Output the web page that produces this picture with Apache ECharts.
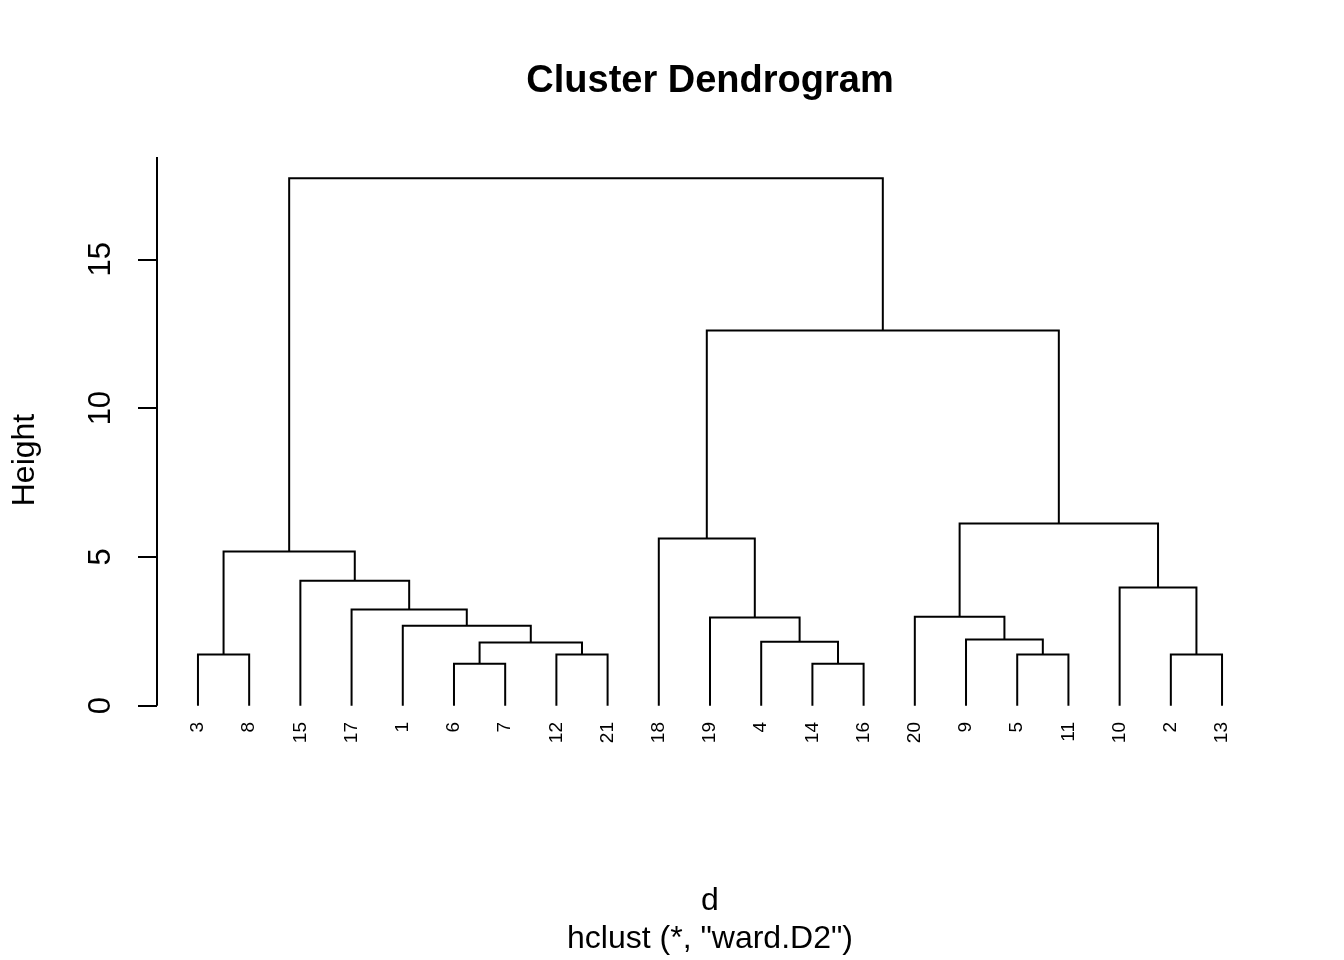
<!DOCTYPE html>
<html><head><meta charset="utf-8">
<script src="https://cdn.jsdelivr.net/npm/echarts@6/dist/echarts.min.js"></script>
<style>html,body{margin:0;padding:0;background:#fff}#c{width:1344px;height:960px}</style>
</head><body><div id="c"></div>
<script>
// Leaf labels in dendrogram display order
const leafOrder = ['3','8','15','17','1','6','7','12','21','18','19','4','14','16','20','9','5','11','10','2','13'];
// Merge steps: a string child is a leaf label, a number child is an earlier merge step (1-based)
const mergeLeft  = ['6','14','3','12','5','2', 1,'4','9','1','19','20','17','10','15', 3,'18', 12, 17, 16];
const mergeRight = ['7','16','8','21','11','13', 4, 2, 5, 7, 8, 9, 10, 6, 13, 15, 11, 14, 18, 19];
const mergeHeight = [1.41,1.41,1.72,1.72,1.72,1.72,2.12,2.15,2.22,2.69,2.96,2.99,3.23,3.97,4.20,5.18,5.62,6.12,12.61,17.73];
const yTicks = [0,5,10,15];
const leafTicks = leafOrder.map((_, i) => i + 1);

const FONT = 'Liberation Sans, Arial, Helvetica, sans-serif';

// Build the segment table from the merge structure
const nodeX = [], nodeH = [];
function childPos(c) {
  if (typeof c === 'string') return [leafOrder.indexOf(c) + 1, 0];
  return [nodeX[c - 1], nodeH[c - 1]];
}
const segs = [];
for (let i = 0; i < mergeHeight.length; i++) {
  const l = childPos(mergeLeft[i]), r = childPos(mergeRight[i]);
  nodeX.push((l[0] + r[0]) / 2);
  nodeH.push(mergeHeight[i]);
  segs.push([l[0], l[1], r[0], r[1], mergeHeight[i]]);
}

const yMin = -1.96, yMax = 18.44;
const chart = echarts.init(document.getElementById('c'), null, {renderer: 'canvas'});
chart.setOption({
  animation: false,
  backgroundColor: '#ffffff',
  grid: {left: 157, right: 81, top: 157, bottom: 196, containLabel: false},
  xAxis: {
    type: 'value', min: 0.2, max: 21.8,
    axisLine: {show: false},
    axisTick: {show: false},
    splitLine: {show: false},
    axisLabel: {
      customValues: leafTicks,
      formatter: v => leafOrder[Math.round(v) - 1] || '',
      rotate: 90, fontSize: 19, margin: -42, color: '#000', fontFamily: FONT
    }
  },
  yAxis: {
    type: 'value', min: yMin, max: yMax,
    axisLine: {show: false},
    splitLine: {show: false},
    axisTick: {show: true, customValues: yTicks, length: 19, lineStyle: {color: '#000', width: 2}},
    axisLabel: {customValues: yTicks, rotate: 90, fontSize: 31, margin: 40, color: '#000', fontFamily: FONT}
  },
  series: [
    {
      type: 'custom',
      data: segs,
      encode: {x: [0, 2], y: [1, 3, 4]},
      clip: false,
      renderItem: function (params, api) {
        const p0 = api.coord([api.value(0), api.value(1)]);
        const p1 = api.coord([api.value(0), api.value(4)]);
        const p2 = api.coord([api.value(2), api.value(4)]);
        const p3 = api.coord([api.value(2), api.value(3)]);
        return {type: 'polyline', shape: {points: [p0, p1, p2, p3]},
          style: {stroke: '#000', lineWidth: 2, fill: null, lineJoin: 'miter', lineCap: 'butt'}};
      }
    },
    {
      type: 'line',
      data: [[0.2, yTicks[0]], [0.2, yMax]],
      symbol: 'none', clip: false, silent: true,
      lineStyle: {color: '#000', width: 2}
    }
  ],
  graphic: [
    {type: 'text', x: 710, y: 82, style: {text: 'Cluster Dendrogram', font: 'bold 38px ' + FONT, fill: '#000', align: 'center', verticalAlign: 'middle'}},
    {type: 'text', x: 710, y: 901, style: {text: 'd', font: '32px ' + FONT, fill: '#000', align: 'center', verticalAlign: 'middle'}},
    {type: 'text', x: 710, y: 939, style: {text: 'hclust (*, "ward.D2")', font: '32px ' + FONT, fill: '#000', align: 'center', verticalAlign: 'middle'}},
    {type: 'text', x: 25, y: 460, rotation: Math.PI / 2, style: {text: 'Height', font: '32px ' + FONT, fill: '#000', align: 'center', verticalAlign: 'middle'}}
  ]
});
</script>
</body></html>
